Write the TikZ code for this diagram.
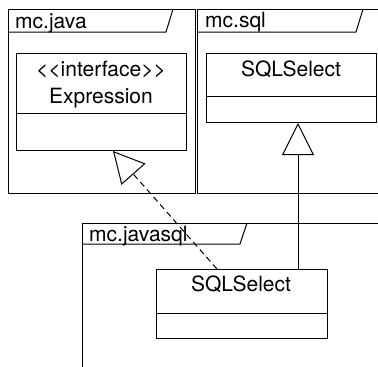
\documentclass[tikz,border=0pt]{standalone}
\usepackage{fontspec}
\setmainfont{TeX Gyre Heros}
\usetikzlibrary{arrows.meta,calc}
\tikzset{
  pkgline/.style={line width=1pt},
  classbox/.style={draw, line width=1pt, anchor=north west, inner sep=0pt},
  umltext/.style={font=\fontsize{21}{26}\selectfont, inner sep=0pt},
  realize/.style={line width=1pt, dash pattern=on 6pt off 4pt, -{Triangle[open,length=31pt,width=32pt,line width=1pt]}},
  generalize/.style={line width=1pt, -{Triangle[open,length=32pt,width=32pt,line width=1pt]}}
}

\begin{document}
\begin{tikzpicture}[x=1pt,y=-1pt]
		%%%%% START %%%%%
		\useasboundingbox (0,0) rectangle (378,367);
		\clip (0,0) rectangle (378,367);
		
		% package mc.java
		\draw[pkgline] (8,9) rectangle (195,193);
		\draw[pkgline] (8,32) -- (166,32) -- (173,9);
		\node[umltext, anchor=base west] (javapkg) at (15,28) {mc.java};
		
		% package mc.sql
		\draw[pkgline] (197,9) rectangle (390,193);
		\draw[pkgline] (197,32) -- (356,32) -- (363,9);
		\node[umltext, anchor=base west] (sqlpkg) at (205,27) {mc.sql};
		
		% package mc.javasql
		\draw[pkgline] (82,223) rectangle (390,380);
		\draw[pkgline] (82,244) -- (240,244) -- (247,223);
		\node[umltext, anchor=base west] (javasqlpkg) at (89,241) {mc.javasql};
		
		% classes
		\node[classbox, minimum width=170pt, minimum height=97pt] (expr) at (16,53) {};
		\draw[pkgline] (16,113) -- (186,113);
		\node[umltext, anchor=base] (exprstereo) at (101,76) {<\kern0pt<interface>\kern0pt>};
		\node[umltext, anchor=base] (exprname) at (101,103) {Expression};
		
		\node[classbox, minimum width=170pt, minimum height=69pt] (sel) at (206,53) {};
		\draw[pkgline] (206,96) -- (376,96);
		\node[umltext, anchor=base] (selname) at (291,76) {SQLSelect};
		
		\node[classbox, minimum width=171pt, minimum height=69pt] (jsel) at (156,269) {};
		\draw[pkgline] (156,313) -- (327,313);
		\node[umltext, anchor=base] (jselname) at (241,291) {SQLSelect};
		
		% relations
		\coordinate (exprend) at ($(expr.south west)+(97,0)$);
		\coordinate (jselstart) at ($(jsel.north west)+(61,0)$);
		\coordinate (selend) at ($(sel.south west)+(92,0)$);
		\draw[realize] (jselstart) -- (exprend);
		\draw[generalize] (selend |- jsel.north) -- (selend);
		%%%%% END %%%%%
	\end{tikzpicture}
\end{document}
